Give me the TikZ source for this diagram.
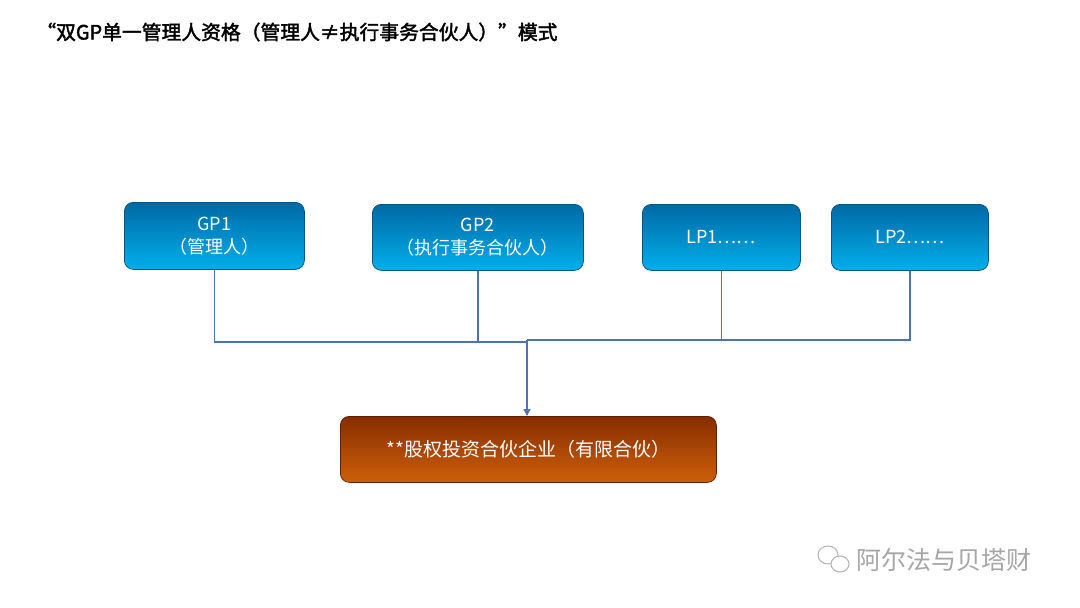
\documentclass[tikz,border=0pt]{standalone}
\usepackage{fontspec}
\newfontfamily\cjk{Noto Sans CJK SC}
\newfontfamily\cjkb[FakeBold=2]{Noto Sans CJK SC}
\usetikzlibrary{arrows.meta}
\definecolor{boxtop}{RGB}{0,105,165}
\definecolor{boxbot}{RGB}{0,175,235}
\definecolor{fundtop}{RGB}{135,45,0}
\definecolor{fundbot}{RGB}{205,95,10}
\definecolor{linkcol}{RGB}{80,115,175}
\tikzset{every picture/.style={line width=0.75pt}}
\tikzset{
  partner/.style={rounded corners=9pt, draw=boxtop!80!black, top color=boxtop, bottom color=boxbot,
    text=white, align=center, font=\cjk\fontsize{18}{23}\selectfont, inner sep=0pt, anchor=north west},
  fund/.style={rounded corners=9pt, draw=fundtop!70!black, top color=fundtop, bottom color=fundbot,
    text=white, align=center, font=\cjk\fontsize{19}{22}\selectfont, inner sep=0pt, anchor=north west},
  link/.style={draw=linkcol, line width=1.3pt}
}

\begin{document}
\begin{tikzpicture}[x=1pt,y=1pt,yscale=-1,xscale=1]
\useasboundingbox[fill=white] (0,0) rectangle (1080,608);

% Title
\node (title) [anchor=west, inner sep=0pt, font=\cjkb\fontsize{19.8}{22}\selectfont] at (36,32) {“双GP单一管理人资格（管理人≠执行事务合伙人）”模式};

% Partners
\node (gp1) [partner, minimum width=180pt, minimum height=67pt] at (124,202) {GP1\\（管理人）};
\node (gp2) [partner, minimum width=211pt, minimum height=66pt] at (372,204) {GP2\\（执行事务合伙人）};
\node (lp1) [partner, minimum width=158pt, minimum height=66pt] at (642,204) {LP1……};
\node (lp2) [partner, minimum width=157pt, minimum height=66pt] at (831,204) {LP2……};

% Fund
\node (fund) [fund, minimum width=376pt, minimum height=66pt] at (340,416) {**股权投资合伙企业（有限合伙）};

% Links
\coordinate (gpjoin) at (527,342);
\coordinate (lpjoin) at (527,340);
\draw[link] (gp1.south) |- (gpjoin);
\draw[link] (gp2.south) |- (gpjoin);
\draw[link] (lp1.south) |- (lpjoin);
\draw[link] (lp2.south) |- (lpjoin);
\draw[link, -{Triangle[length=7pt,width=7pt]}] (lpjoin) -- (fund.north -| lpjoin);

% Watermark
\draw[gray!60, line width=1pt] (828,555) ellipse (10pt and 9pt);
\draw[gray!60, line width=1pt, fill=white] (840,564) ellipse (9pt and 8pt);
\node (mark) [anchor=west, inner sep=0pt, text=gray!70, font=\cjk\fontsize{25}{27}\selectfont] at (856,560) {阿尔法与贝塔财};
\end{tikzpicture}
\end{document}
